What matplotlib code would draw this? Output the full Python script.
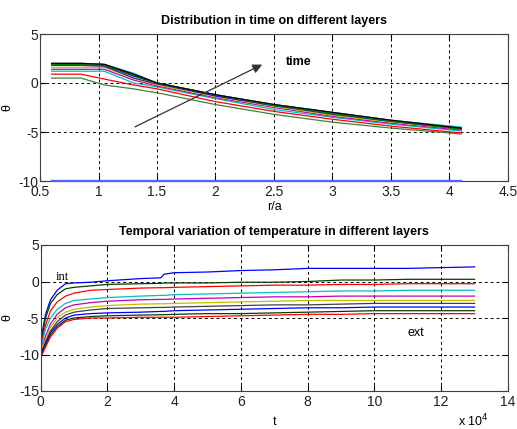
import matplotlib
matplotlib.use("Agg")
import matplotlib.pyplot as plt
from matplotlib.ticker import FuncFormatter, MultipleLocator

plt.rcParams['font.family'] = ['Liberation Sans', 'DejaVu Sans']

# ---------- top panel data: radial profiles at successive times ----------
r = [0.6, 0.85, 1.05, 1.3, 1.5, 2.0, 2.5, 3.0, 3.5, 4.1]
profiles = [
    [-10, -10, -10, -10, -10, -10, -10, -10, -10, -10],
    [0.5, 0.5, -0.2, -0.6, -1.0, -2.2, -3.2, -4.0, -4.6, -5.2],
    [0.9, 0.9, 0.4, -0.2, -0.6, -1.9, -2.9, -3.7, -4.4, -5.1],
    [1.2, 1.2, 1.2, 0.0, -0.4, -1.6, -2.7, -3.5, -4.2, -4.9],
    [1.4, 1.4, 1.4, 0.3, -0.3, -1.5, -2.5, -3.4, -4.1, -4.8],
    [1.6, 1.6, 1.6, 0.5, -0.2, -1.4, -2.4, -3.3, -4.0, -4.7],
    [1.8, 1.8, 1.7, 0.5, -0.1, -1.3, -2.3, -3.2, -3.9, -4.7],
    [1.9, 1.9, 1.8, 0.7, 0.0, -1.3, -2.3, -3.1, -3.9, -4.6],
    [1.9, 1.9, 1.8, 0.8, 0.0, -1.2, -2.3, -3.1, -3.9, -4.7],
    [2.0, 2.0, 1.9, 0.9, 0.0, -1.2, -2.2, -3.0, -3.8, -4.6],
    [2.0, 2.0, 1.9, 1.0, 0.0, -1.2, -2.2, -3.0, -3.8, -4.5],
    [2.0, 2.0, 1.9, 0.9, 0.0, -1.2, -2.2, -3.0, -3.8, -4.6],
]
profile_colors = ['#5060ff', '#408040', '#ff0000', '#00bfbf', '#bf00bf', '#bfbf00',
                  '#404040', '#0000ff', '#008000', '#ff0000', '#00bfbf', '#000000']

# ---------- bottom panel data: time series per layer ----------
t = [0, 500, 1500, 3000, 5000, 7500, 10000, 15000, 20000, 30000, 36000, 37000, 40000,
     50000, 60000, 70000, 80000, 90000, 100000, 110000, 120000, 130000]
layers = [
    [-13, -7, -4.5, -2.5, -1.2, -0.3, -0.2, -0.1, 0.1, 0.4, 0.5, 1.0, 1.2, 1.3, 1.5, 1.6, 1.8, 1.8, 1.8, 1.8, 1.9, 2.0],
    [-11, -7.5, -5, -3, -1.8, -1.0, -0.8, -0.6, -0.4, -0.3, -0.25, -0.2, -0.2, -0.2, -0.1, -0.1, 0.0, 0.2, 0.2, 0.3, 0.3, 0.3],
    [-10.5, -8, -6, -4, -2.8, -2.0, -1.6, -1.2, -1.1, -0.9, -0.85, -0.85, -0.8, -0.7, -0.6, -0.5, -0.5, -0.4, -0.4, -0.3, -0.3, -0.3],
    [-10.5, -8.5, -6.5, -5, -3.8, -3, -2.6, -2.4, -2.2, -2.0, -1.9, -1.9, -1.8, -1.7, -1.6, -1.5, -1.4, -1.3, -1.3, -1.2, -1.2, -1.2],
    [-10, -9, -7.5, -5.8, -4.5, -3.6, -3.2, -2.9, -2.7, -2.5, -2.45, -2.45, -2.4, -2.3, -2.2, -2.1, -2.1, -2.0, -2.0, -2.0, -2.0, -2.0],
    [-10, -9, -8, -6.3, -5, -4.2, -3.8, -3.5, -3.3, -3.1, -3.05, -3.05, -3.0, -2.9, -2.8, -2.7, -2.6, -2.6, -2.6, -2.6, -2.6, -2.6],
    [-10, -9.5, -8.3, -6.8, -5.5, -4.6, -4.2, -3.9, -3.7, -3.6, -3.55, -3.55, -3.5, -3.4, -3.3, -3.2, -3.2, -3.1, -3.0, -3.0, -3.0, -3.0],
    [-10, -9.5, -8.5, -7, -5.9, -5, -4.6, -4.4, -4.3, -4.2, -4.1, -4.1, -4.0, -3.9, -3.8, -3.7, -3.6, -3.6, -3.5, -3.5, -3.5, -3.5],
    [-10, -9.8, -8.8, -7.3, -6.2, -5.3, -5.0, -4.8, -4.7, -4.6, -4.55, -4.55, -4.5, -4.4, -4.4, -4.3, -4.2, -4.1, -4.0, -4.0, -4.0, -4.0],
    [-10, -10, -9, -7.6, -6.4, -5.5, -5.2, -5.0, -5.0, -4.9, -4.9, -4.9, -4.9, -4.8, -4.7, -4.6, -4.5, -4.5, -4.4, -4.4, -4.4, -4.4],
]
layer_colors = ['#0000ff', '#004000', '#ff0000', '#00bfbf', '#bf00bf', '#bfbf00',
                '#404040', '#0000ff', '#004000', '#ff0000']

fig = plt.figure(figsize=(5.17, 4.29), dpi=100)
W, H = 517, 429
ax1 = fig.add_axes([40 / W, 1 - 181 / H, 468 / W, 147 / H])
ax2 = fig.add_axes([40.5 / W, 1 - 391 / H, 467.5 / W, 146 / H])

fmt = FuncFormatter(lambda v, p: f'{v:g}')

def style(ax):
    ax.grid(True, color='black', linestyle=(0, (3, 3)), linewidth=0.7)
    ax.tick_params(direction='in', labelsize=10, length=4, top=True, right=True, pad=1,
                   labelcolor='#202020')
    ax.tick_params(axis='x', pad=3)
    for s in ax.spines.values():
        s.set_linewidth(0.8)
        s.set_color('#404040')

for i, (vals, c) in enumerate(zip(profiles, profile_colors)):
    if i == 0:
        ax1.plot(r, vals, color=c, linewidth=1.6, zorder=5, clip_on=False)
    else:
        ax1.plot(r, vals, color=c, linewidth=0.9)
ax1.set_xlim(0.5, 4.5)
ax1.set_ylim(-10, 5)
ax1.xaxis.set_major_locator(MultipleLocator(0.5))
ax1.yaxis.set_major_locator(MultipleLocator(5))
ax1.xaxis.set_major_formatter(fmt)
ax1.yaxis.set_major_formatter(fmt)
ax1.set_title('Distribution in time on different layers', fontsize=9, fontweight='bold', pad=7)
ax1.set_xlabel('r/a', fontsize=9, labelpad=1)
ax1.set_ylabel('θ', fontsize=9, labelpad=4)
ax1.annotate('', xy=(2.42, 2.0), xytext=(1.29, -4.6),
             arrowprops=dict(arrowstyle='-|>', color='#333333', lw=0.9, mutation_scale=14))
ax1.text(2.6, 2.1, 'time', fontsize=9, fontweight='bold', va='center')
style(ax1)

for vals, c in zip(layers, layer_colors):
    ax2.plot(t, vals, color=c, linewidth=0.9)
ax2.set_xlim(0, 140000)
ax2.set_ylim(-15, 5)
ax2.xaxis.set_major_locator(MultipleLocator(20000))
ax2.yaxis.set_major_locator(MultipleLocator(5))
ax2.xaxis.set_major_formatter(FuncFormatter(lambda v, p: f'{v / 1e4:g}'))
ax2.yaxis.set_major_formatter(fmt)
ax2.set_title('Temporal variation of temperature in different layers', fontsize=9, fontweight='bold', pad=7)
ax2.set_xlabel('t', fontsize=9, labelpad=5)
ax2.set_ylabel('θ', fontsize=9, labelpad=4)
ax2.text(4500, 0.6, 'int', fontsize=9, family=['Liberation Serif'], va='center')
ax2.text(110000, -7.0, 'ext', fontsize=9, va='center')
style(ax2)
fig.text(458 / W, 1 - 421 / H, r'x 10$^4$', fontsize=9, va='center')

fig.savefig('out.png', dpi=100, facecolor='white')
